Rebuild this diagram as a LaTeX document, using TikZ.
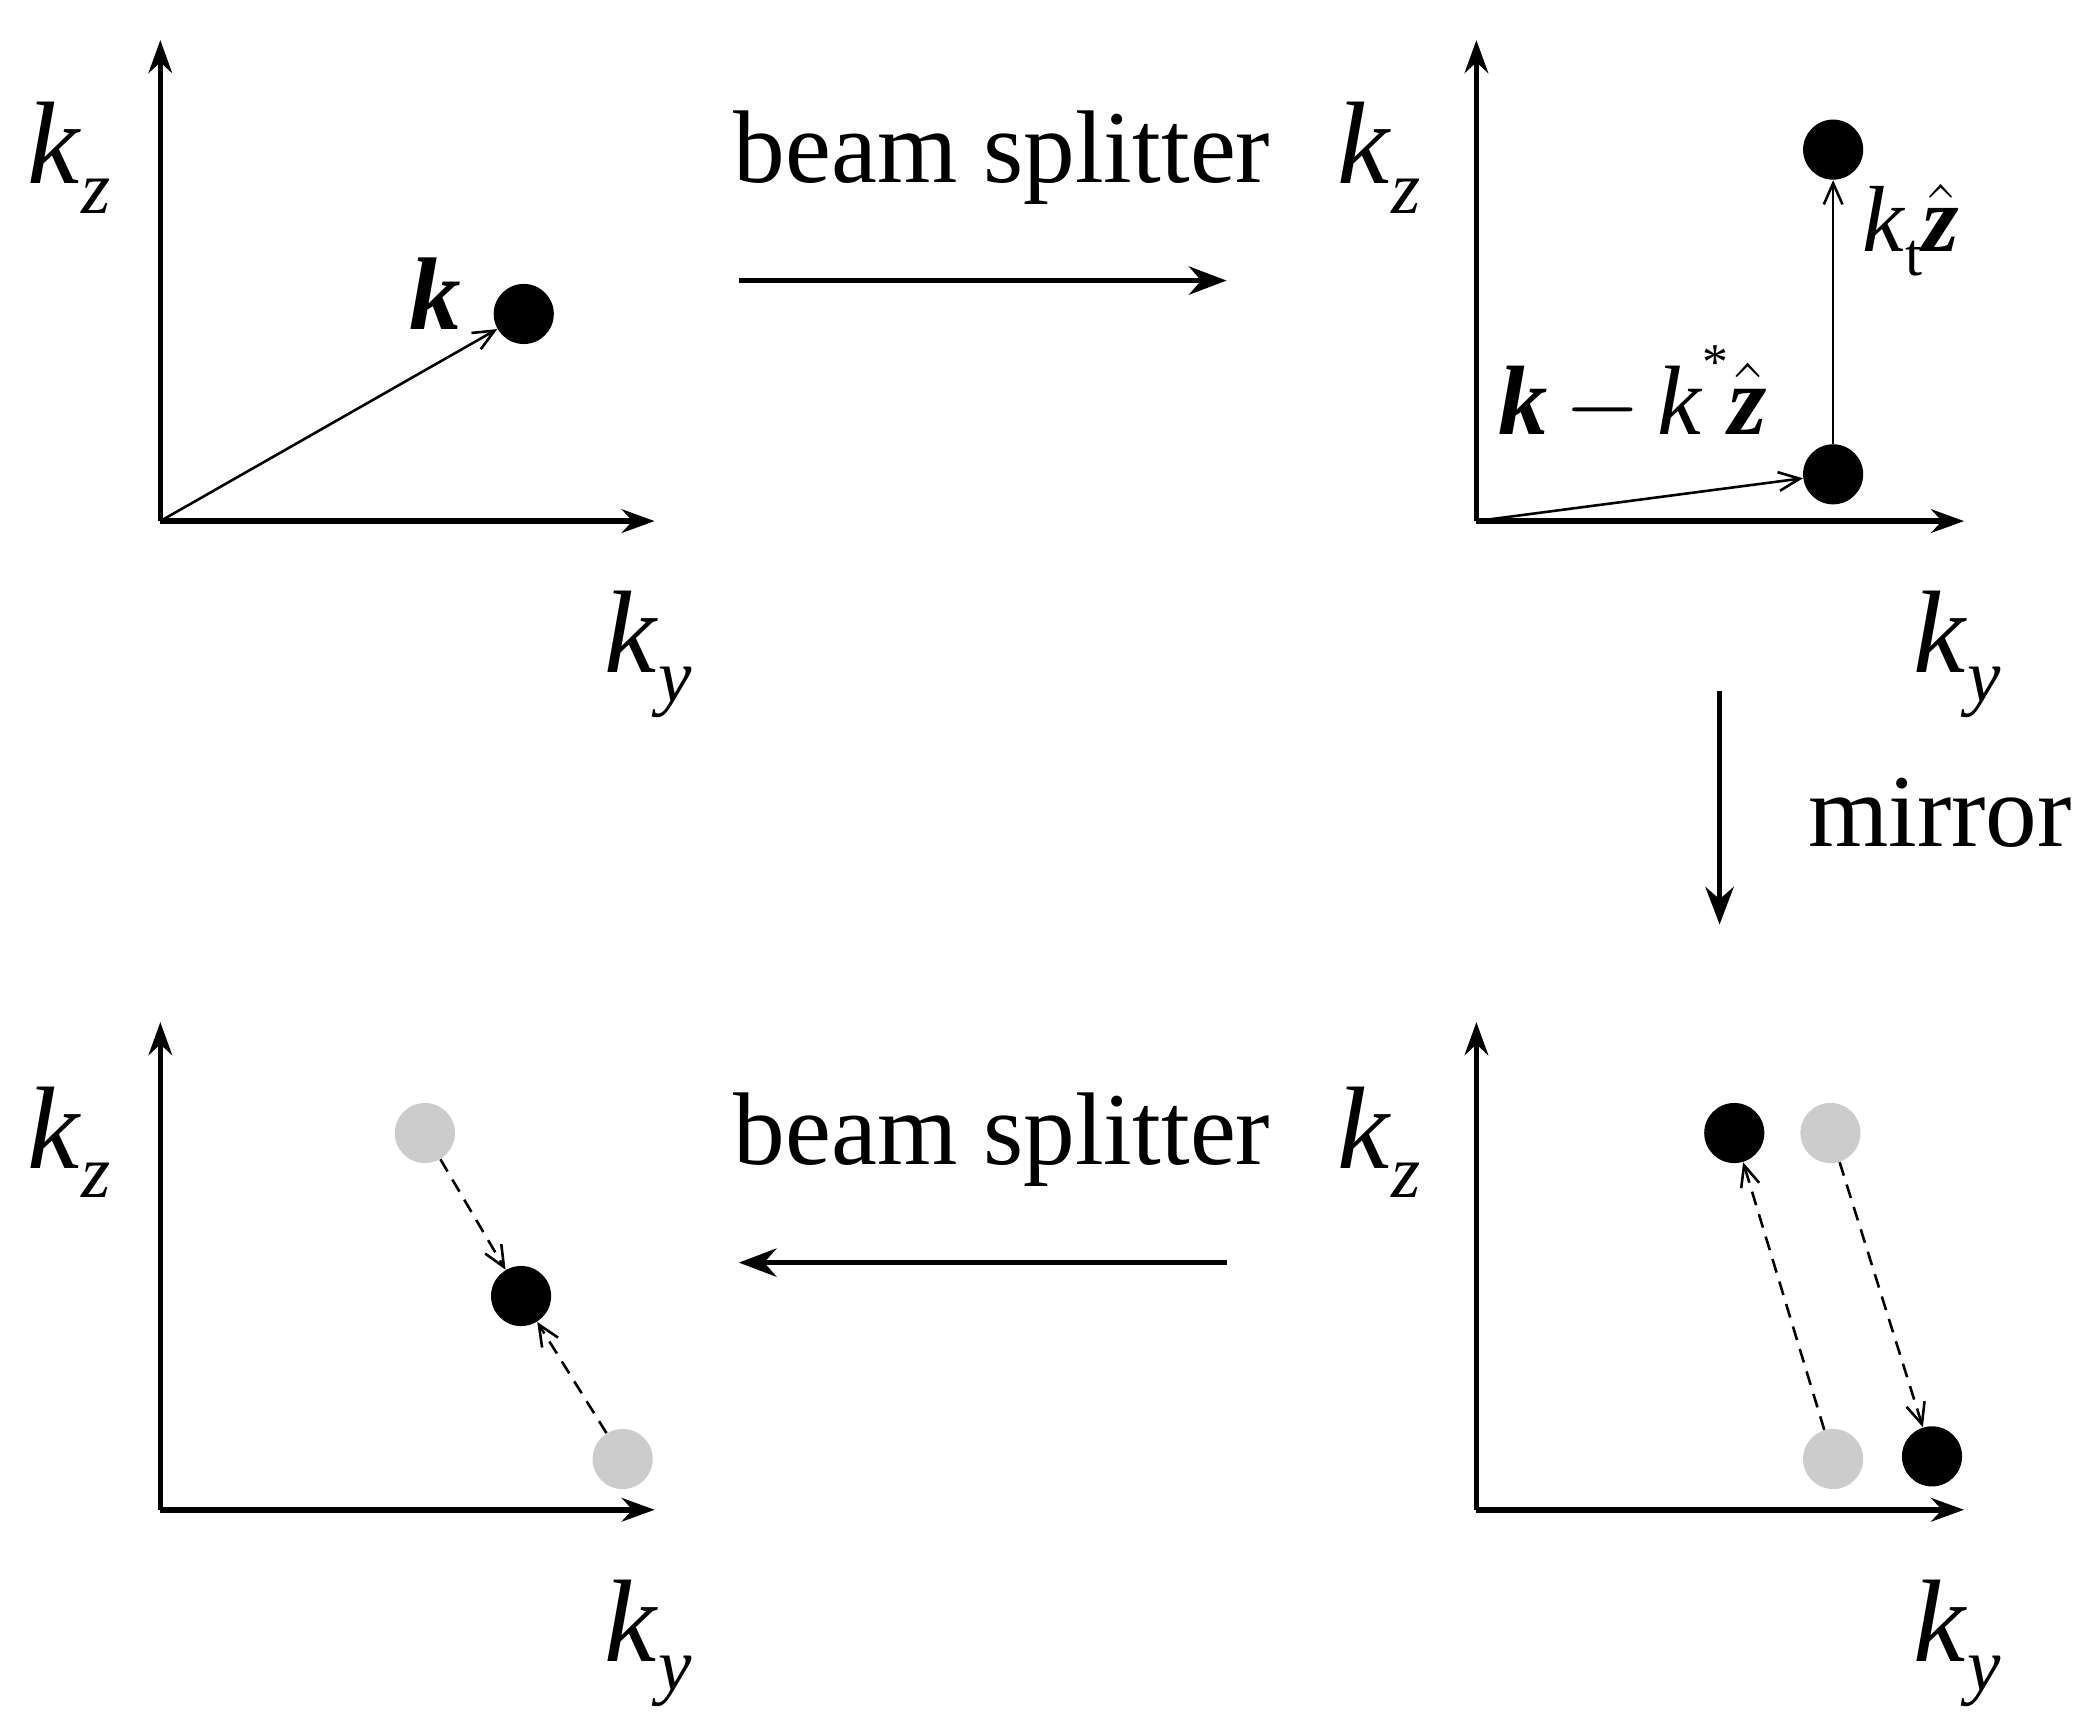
\RequirePackage{fix-cm}
\documentclass[tikz,border=0pt]{standalone}
\usepackage{fontspec}
\setmainfont{Liberation Serif}
\usetikzlibrary{arrows.meta}
\newcommand{\bk}{\textbf{\textit{k}}}
\newcommand{\bzh}{\ensuremath{\hat{\textbf{\textit{z}}}}}
\newcommand{\kk}[1]{\textit{k}\raisebox{-0.25em}{\fontsize{32}{34}\selectfont\textit{#1}}}
\begin{document}
\begin{tikzpicture}[x=0.02cm,y=-0.02cm,
 ax/.style={line width=2.4pt,-{Stealth[length=14pt,width=10pt]}},
 big/.style={line width=2.4pt,-{Stealth[length=16pt,width=12pt]}},
 thin/.style={line width=1.1pt,-{Straight Barb[length=9pt,width=8pt]}},
 dsh/.style={thin,dash pattern=on 6pt off 4pt},
 bd/.style={circle,fill=black,minimum size=0.9cm,inner sep=0},
 gd/.style={circle,fill=black!20,minimum size=0.9cm,inner sep=0},
 lab/.style={font=\fontsize{50}{56}\selectfont},
 txt/.style={font=\fontsize{44}{50}\selectfont}]
\useasboundingbox (0,0) rectangle (1568,1290);
% panel 1
\coordinate (o1) at (120,390);
\draw[ax] (o1) -- (120,30);
\draw[ax] (o1) -- (490,390);
\node[lab] (z1) at (52,118) {\kk{z}};
\node[lab] (y1) at (485,490) {\kk{y}};
\node[bd] (d1) at (392,235) {};
\draw[thin] (o1) -- (d1);
\node[font=\fontsize{44}{48}\selectfont] (kk) at (326,220) {\bk};
% panel 2
\coordinate (o2) at (1105,390);
\draw[ax] (o2) -- (1105,30);
\draw[ax] (o2) -- (1470,390);
\node[lab] (z2) at (1032,118) {\kk{z}};
\node[lab] (y2) at (1465,490) {\kk{y}};
\node[bd] (d2) at (1372,355) {};
\node[bd] (d3) at (1372,112) {};
\draw[thin] (o2) -- (d2);
\draw[thin] (d2) -- (d3);
\node[font=\fontsize{40}{44}\selectfont,anchor=west] (kt) at (1388,172) {\textit{k}\raisebox{-0.25em}{\fontsize{26}{28}\selectfont t}\bzh};
\node[font=\fontsize{42}{46}\selectfont] (kkz) at (1222,295) {\bk\,$-$\,\textit{k}\raisebox{0.55em}{\fontsize{22}{24}\selectfont *}\bzh};
% top arrow
\node[txt] (bs1) at (750,118) {beam splitter};
\coordinate (a1) at (553,210); \coordinate (a2) at (918,210);
\draw[big] (a1) -- (a2);
% mirror
\coordinate (m1) at (1287,517); \coordinate (m2) at (1287,692);
\draw[big] (m1) -- (m2);
\node[txt] (mir) at (1452,608) {mirror};
% panel 3
\coordinate (o3) at (120,1130);
\draw[ax] (o3) -- (120,765);
\draw[ax] (o3) -- (490,1130);
\node[lab] (z3) at (52,855) {\kk{z}};
\node[lab] (y3) at (485,1230) {\kk{y}};
\node[gd] (g1) at (318,848) {};
\node[gd] (g2) at (466,1092) {};
\node[bd] (b1) at (390,970) {};
\draw[dsh] (g1) -- (b1);
\draw[dsh] (g2) -- (b1);
% bottom arrow
\node[txt] (bs2) at (750,853) {beam splitter};
\coordinate (c1) at (918,945); \coordinate (c2) at (553,945);
\draw[big] (c1) -- (c2);
% panel 4
\coordinate (o4) at (1105,1130);
\draw[ax] (o4) -- (1105,765);
\draw[ax] (o4) -- (1470,1130);
\node[lab] (z4) at (1032,855) {\kk{z}};
\node[lab] (y4) at (1465,1230) {\kk{y}};
\node[bd] (b2) at (1298,848) {};
\node[gd] (g3) at (1370,848) {};
\node[gd] (g4) at (1372,1092) {};
\node[bd] (b3) at (1446,1090) {};
\draw[dsh] (g4) -- (b2);
\draw[dsh] (g3) -- (b3);
\end{tikzpicture}
\end{document}
